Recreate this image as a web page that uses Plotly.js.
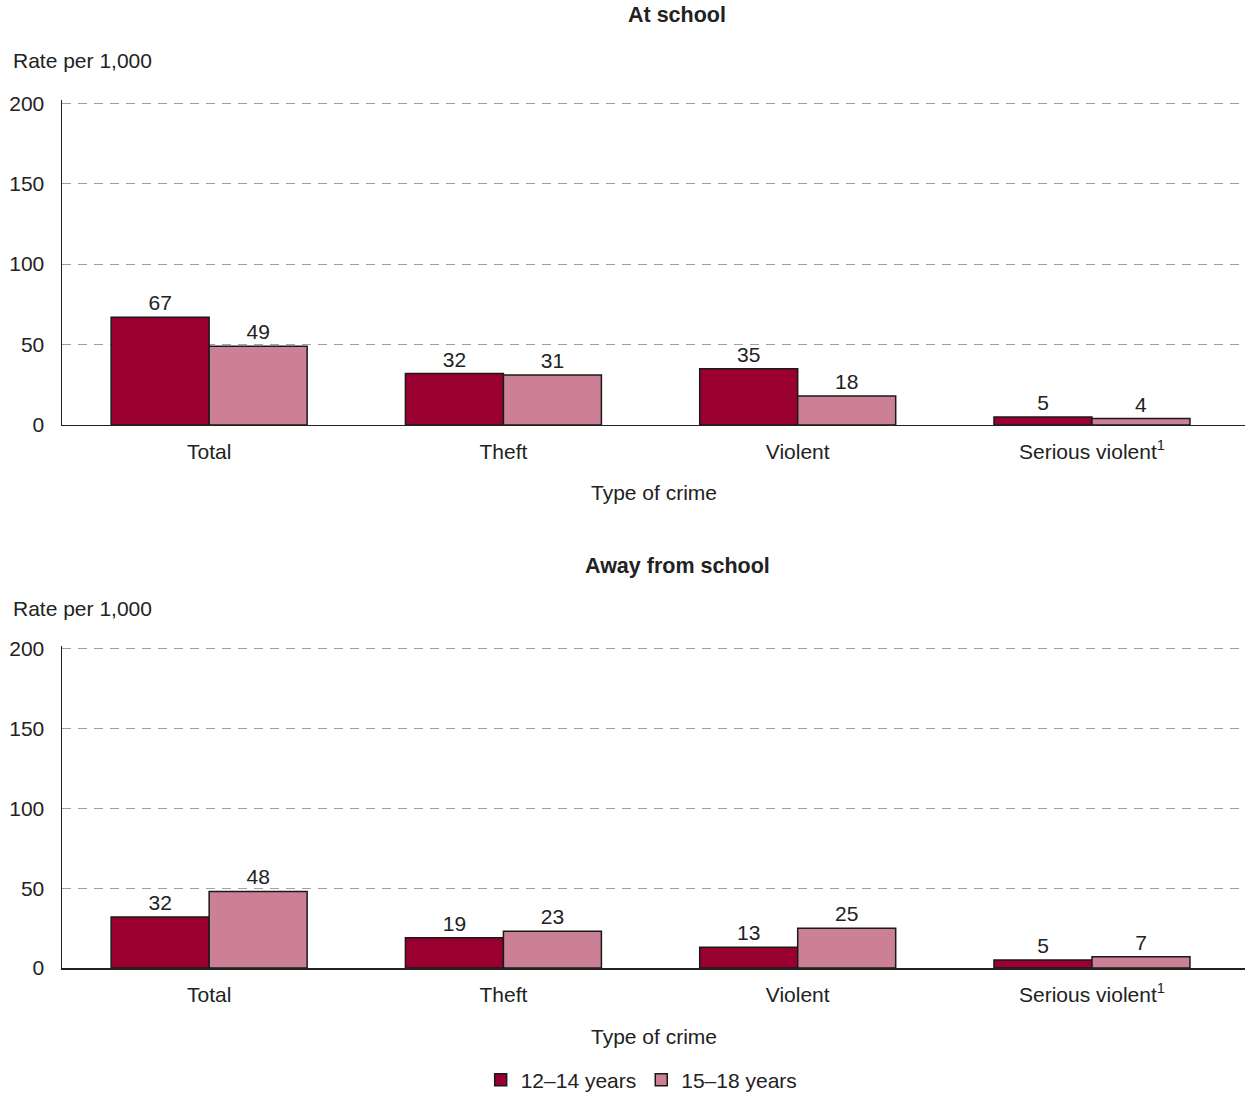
<!DOCTYPE html>
<html><head><meta charset="utf-8">
<script src="https://cdn.plot.ly/plotly-3.0.1.min.js"></script>
<style>body{margin:0;padding:0;background:#fff}#chart{width:1245px;height:1094px}</style>
</head><body><div id="chart"></div>
<script>
const categories = ["Total", "Theft", "Violent", "Serious violent<sup>1</sup>"];
const seriesNames = ["12\u201314 years", "15\u201318 years"];
const atSchool_12_14 = [67, 32, 35, 5];
const atSchool_15_18 = [49, 31, 18, 4];
const away_12_14 = [32, 19, 13, 5];
const away_15_18 = [48, 23, 25, 7];
const yTicks = [0, 50, 100, 150, 200];

const c1 = "#990030", c2 = "#CC8095";
const font = "Liberation Sans, Arial, sans-serif";
const fs = 21;
function bar(y, name, color, xa, ya, showlegend) {
  return {type: "bar", x: categories, y: y, name: name, xaxis: xa, yaxis: ya,
    marker: {color: color, line: {color: "#1a1a1a", width: 1.5}},
    text: y.map(String), textposition: "outside", cliponaxis: false,
    textfont: {size: fs, color: "#222", family: font},
    showlegend: showlegend, hoverinfo: "skip"};
}
const data = [
  bar(atSchool_12_14, seriesNames[0], c1, "x", "y", true),
  bar(atSchool_15_18, seriesNames[1], c2, "x", "y", true),
  bar(away_12_14, seriesNames[0], c1, "x2", "y2", false),
  bar(away_15_18, seriesNames[1], c2, "x2", "y2", false)
];
const yax = (domain) => ({domain: domain, range: [0, 202], tickvals: yTicks, ticktext: yTicks.map(String),
  showgrid: true, gridcolor: "#a0a0a0", griddash: "9px,7px", gridwidth: 1,
  zeroline: false, showline: true, linecolor: "#222", linewidth: 1.5,
  ticks: "", ticklen: 0, ticklabelstandoff: 12, tickfont: {size: fs, color: "#222", family: font}, fixedrange: true});
const xax = (anchor) => ({anchor: anchor, range: [-0.5, 3.52], showline: true, linecolor: "#222", linewidth: 1.5,
  ticks: "", ticklabelstandoff: 7, tickfont: {size: fs, color: "#222", family: font}, fixedrange: true});
const layout = {
  width: 1245, height: 1094,
  margin: {l: 62, r: 0, t: 100, b: 126, autoexpand: false},
  paper_bgcolor: "#fff", plot_bgcolor: "#fff",
  font: {family: font, color: "#222", size: fs},
  barmode: "group", bargap: 0.334, bargroupgap: 0,
  xaxis: xax("y"), yaxis: yax([0.6256, 1]),
  xaxis2: xax("y2"), yaxis2: yax([0, 0.3712]),
  showlegend: true,
  legend: {orientation: "h", x: 0.49, xanchor: "center", xref: "paper", yref: "container", y: 0.0128, yanchor: "middle",
    font: {size: fs, family: font, color: "#222"}, traceorder: "normal", itemwidth: 30},
  annotations: [
    {text: "<b>At school</b>", xref: "paper", yref: "paper", x: 0.52, y: 1, yshift: 85, yanchor: "middle", showarrow: false, font: {size: 21.5}},
    {text: "Rate per 1,000", xref: "paper", yref: "paper", x: 0, xshift: -51, xanchor: "left", y: 1, yshift: 40, yanchor: "middle", showarrow: false},
    {text: "Type of crime", xref: "paper", yref: "paper", x: 0.5, y: 0.6256, yshift: -68, yanchor: "middle", showarrow: false},
    {text: "<b>Away from school</b>", xref: "paper", yref: "paper", x: 0.52, y: 0.3712, yshift: 80, yanchor: "middle", showarrow: false, font: {size: 21.5}},
    {text: "Rate per 1,000", xref: "paper", yref: "paper", x: 0, xshift: -51, xanchor: "left", y: 0.3712, yshift: 37, yanchor: "middle", showarrow: false},
    {text: "Type of crime", xref: "paper", yref: "paper", x: 0.5, y: 0, yshift: -68, yanchor: "middle", showarrow: false}
  ]
};
Plotly.newPlot("chart", data, layout, {displayModeBar: false, staticPlot: true});
</script></body></html>
